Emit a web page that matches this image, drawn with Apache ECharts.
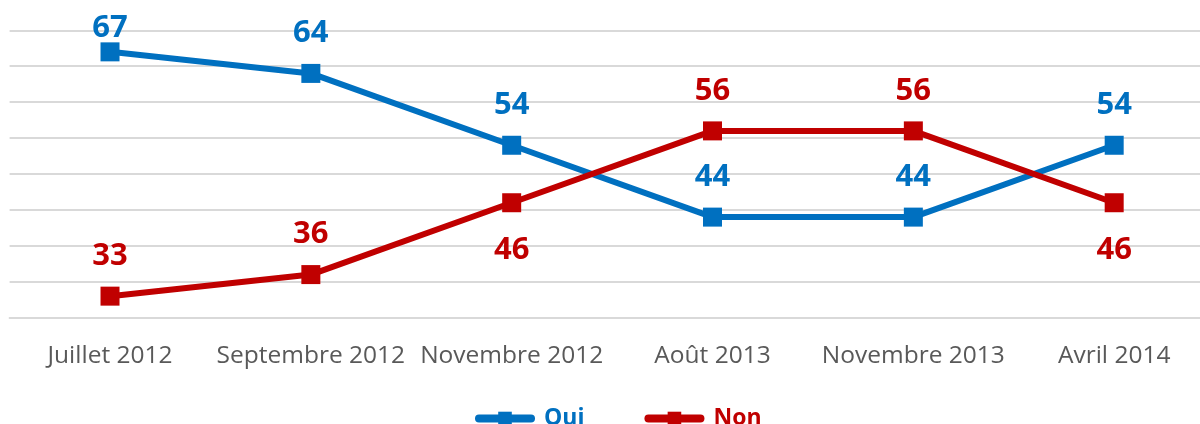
<!DOCTYPE html>
<html>
<head>
<meta charset="utf-8">
<script src="https://cdn.jsdelivr.net/npm/echarts@6/dist/echarts.min.js"></script>
<style>
  html, body { margin: 0; padding: 0; background: #fff; }
  #chart { width: 1200px; height: 424px; }
</style>
</head>
<body>
<div id="chart"></div>
<script>
const categories = ['Juillet 2012', 'Septembre 2012', 'Novembre 2012', 'Août 2013', 'Novembre 2013', 'Avril 2014'];
const oui = [67, 64, 54, 44, 44, 54];
const non = [33, 36, 46, 56, 56, 46];

const BLUE = '#0070C0';
const RED = '#C00000';
const FONT = '"Open Sans", sans-serif';

const myChart = echarts.init(document.getElementById('chart'));

// red labels go under the point where the red line sits below the blue one on the right half
function nonItem(v, i) {
  const below = i >= 2 && v < oui[i];
  return { value: v, label: { position: below ? 'bottom' : 'top', distance: below ? 22 : 15 } };
}
function ouiItem(v, i) {
  // the first label is squeezed against the top of the chart
  return { value: v, label: { distance: i === 0 ? -1 : 15 } };
}

const labelBase = {
  show: true,
  fontFamily: FONT,
  fontWeight: 'bold',
  fontSize: 31,
};

const option = {
  animation: false,
  grid: { left: 9.6, top: 30.3, width: 1205, height: 287.4, outerBoundsMode: 'none', containLabel: false },
  legend: {
    bottom: -11,
    left: 470,
    itemWidth: 52,
    itemHeight: 17,
    itemGap: 60,
    lineStyle: { width: 8, cap: 'round' },
    textStyle: { fontFamily: FONT, fontWeight: 'bold', fontSize: 23, padding: [0, 0, 0, 8] },
    data: [
      { name: 'Oui', textStyle: { color: BLUE } },
      { name: 'Non', textStyle: { color: RED } },
    ],
  },
  xAxis: {
    type: 'category',
    data: categories,
    boundaryGap: true,
    axisLine: { show: true, lineStyle: { color: '#d9d9d9', width: 2 } },
    axisTick: { show: false },
    axisLabel: { color: '#595959', fontFamily: FONT, fontSize: 24.5, margin: 26, interval: 0 },
  },
  yAxis: {
    type: 'value',
    min: 30,
    max: 70,
    interval: 5,
    axisLabel: { show: false },
    axisLine: { show: false },
    axisTick: { show: false },
    splitLine: { lineStyle: { color: '#d9d9d9', width: 2 } },
  },
  series: [
    {
      name: 'Oui',
      type: 'line',
      data: oui.map(ouiItem),
      symbol: 'rect',
      symbolSize: 19,
      itemStyle: { color: BLUE },
      lineStyle: { color: BLUE, width: 6 },
      label: Object.assign({ position: 'top', color: BLUE }, labelBase),
    },
    {
      name: 'Non',
      type: 'line',
      data: non.map(nonItem),
      symbol: 'rect',
      symbolSize: 19,
      itemStyle: { color: RED },
      lineStyle: { color: RED, width: 6 },
      label: Object.assign({ position: 'top', color: RED }, labelBase),
    },
  ],
};

myChart.setOption(option);
</script>
</body>
</html>
